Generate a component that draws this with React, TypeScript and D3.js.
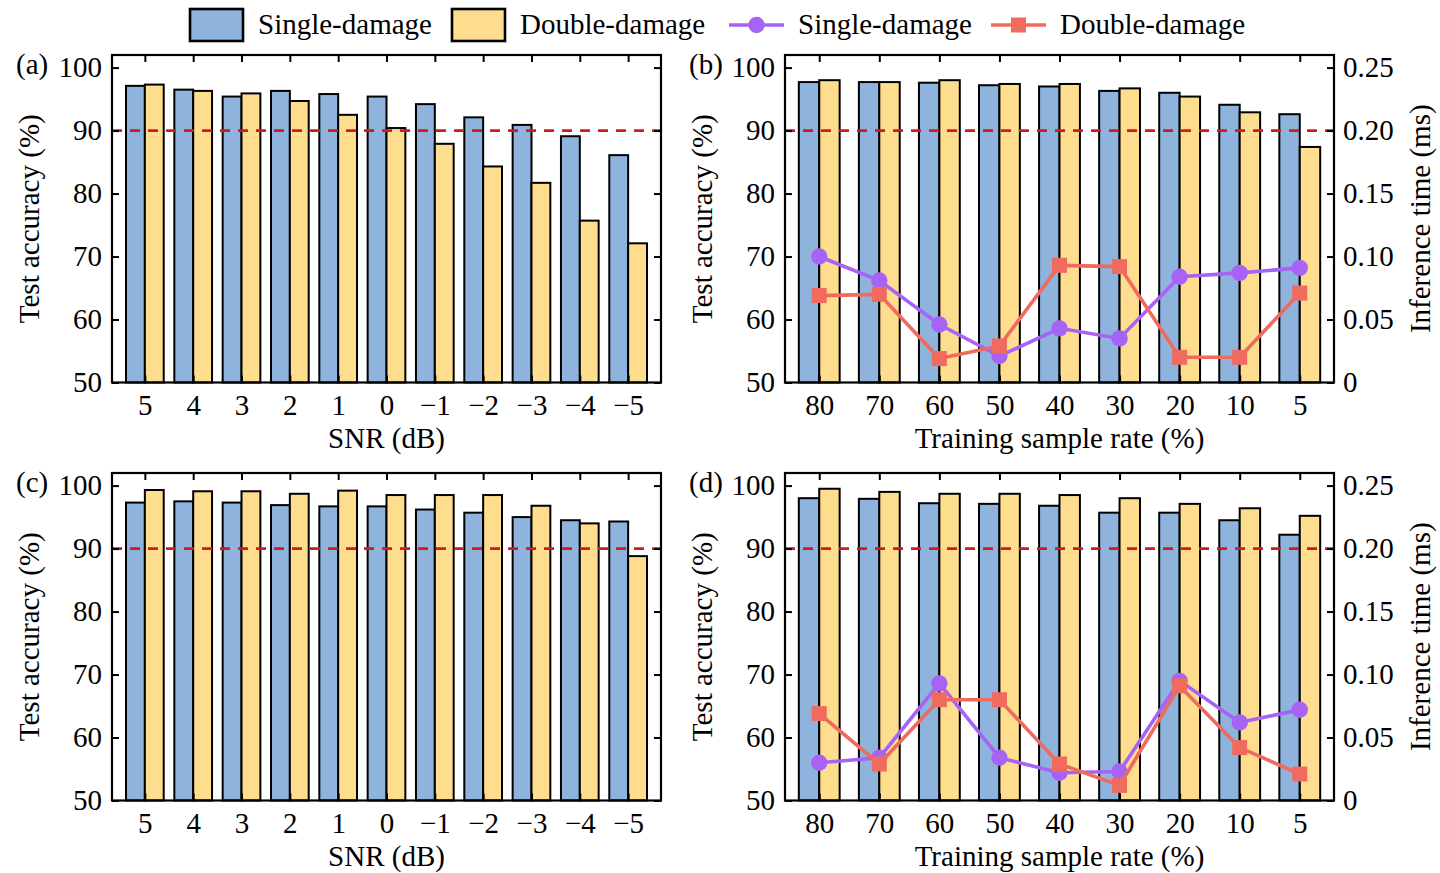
import * as React from "react";
import * as d3 from "d3";

// categories
const snrLabels = ["5", "4", "3", "2", "1", "0", "\u22121", "\u22122", "\u22123", "\u22124", "\u22125"];
const rateLabels = ["80", "70", "60", "50", "40", "30", "20", "10", "5"];

// (a) accuracy vs SNR
const accSnrSingleA = [97.1, 96.5, 95.4, 96.3, 95.8, 95.4, 94.2, 92.1, 90.9, 89.1, 86.1];
const accSnrDoubleA = [97.3, 96.3, 95.9, 94.7, 92.5, 90.4, 87.9, 84.3, 81.7, 75.7, 72.1];

// (b) accuracy + inference time vs training rate
const accRateSingleB = [97.7, 97.7, 97.6, 97.2, 97.0, 96.3, 96.0, 94.1, 92.6];
const accRateDoubleB = [98.0, 97.7, 98.0, 97.4, 97.4, 96.7, 95.4, 92.9, 87.4];
const timeSingleB = [0.1, 0.081, 0.046, 0.021, 0.043, 0.035, 0.084, 0.087, 0.091];
const timeDoubleB = [0.069, 0.07, 0.019, 0.029, 0.093, 0.092, 0.02, 0.02, 0.071];

// (c)
const accSnrSingleC = [97.3, 97.5, 97.3, 96.9, 96.7, 96.7, 96.2, 95.7, 95.0, 94.5, 94.3];
const accSnrDoubleC = [99.3, 99.1, 99.1, 98.7, 99.2, 98.5, 98.5, 98.5, 96.8, 94.0, 88.8];

// (d)
const accRateSingleD = [98.0, 97.9, 97.2, 97.1, 96.8, 95.7, 95.7, 94.5, 92.2];
const accRateDoubleD = [99.5, 99.0, 98.7, 98.7, 98.5, 98.0, 97.1, 96.4, 95.2];
const timeSingleD = [0.03, 0.034, 0.093, 0.034, 0.022, 0.023, 0.095, 0.062, 0.072];
const timeDoubleD = [0.069, 0.029, 0.08, 0.08, 0.029, 0.012, 0.091, 0.042, 0.021];

const accTicks = [50, 60, 70, 80, 90, 100];
const timeTicks = [0, 0.05, 0.1, 0.15, 0.2, 0.25];

const FONT = '"Liberation Serif", "Times New Roman", serif';
const FS = 29;
const BLUE = "#8eb4dd";
const YELLOW = "#ffdd8e";
const PURPLE = "#a663f5";
const RED = "#f06a5e";
const DASH = "#d2191e";

type PanelOpts = {
  left: number;
  top: number;
  label: string;
  cats: string[];
  single: number[];
  double: number[];
  timeSingle?: number[];
  timeDouble?: number[];
  barFrac: number;
  pad: number;
  xTitle: string;
};

function drawPanel(svg: d3.Selection<SVGSVGElement, unknown, null, undefined>, o: PanelOpts) {
  const width = 549;
  const height = 327.5;
  const n = o.cats.length;
  const g = svg.append("g").attr("transform", `translate(${o.left},${o.top})`);

  const x = d3.scaleLinear().domain([-o.pad, n - 1 + o.pad]).range([0, width]);
  const y = d3.scaleLinear().domain([50, 102]).range([height, 0]);
  const yR = d3.scaleLinear().domain([0, 0.26]).range([height, 0]);
  const bw = x(o.barFrac) - x(0);

  // bars
  g.selectAll(".bs")
    .data(o.single)
    .enter()
    .append("rect")
    .attr("x", (_, i) => x(i) - bw)
    .attr("y", (d) => y(d))
    .attr("width", bw)
    .attr("height", (d) => y(50) - y(d))
    .style("fill", BLUE)
    .style("stroke", "#000")
    .style("stroke-width", 2);
  g.selectAll(".bd")
    .data(o.double)
    .enter()
    .append("rect")
    .attr("x", (_, i) => x(i))
    .attr("y", (d) => y(d))
    .attr("width", bw)
    .attr("height", (d) => y(50) - y(d))
    .style("fill", YELLOW)
    .style("stroke", "#000")
    .style("stroke-width", 2);

  // 90% reference
  g.append("line")
    .attr("x1", 0)
    .attr("x2", width)
    .attr("y1", y(90))
    .attr("y2", y(90))
    .style("stroke", DASH)
    .style("stroke-width", 2.8)
    .style("stroke-dasharray", "10,8");

  // inference time lines
  if (o.timeSingle && o.timeDouble) {
    const line = d3
      .line<number>()
      .x((_, i) => x(i))
      .y((d) => yR(d));
    g.append("path")
      .attr("d", line(o.timeSingle))
      .style("fill", "none")
      .style("stroke", PURPLE)
      .style("stroke-width", 3.6);
    g.selectAll(".ms")
      .data(o.timeSingle)
      .enter()
      .append("circle")
      .attr("cx", (_, i) => x(i))
      .attr("cy", (d) => yR(d))
      .attr("r", 8.2)
      .style("fill", PURPLE);
    g.append("path")
      .attr("d", line(o.timeDouble))
      .style("fill", "none")
      .style("stroke", RED)
      .style("stroke-width", 3.6);
    g.selectAll(".md")
      .data(o.timeDouble)
      .enter()
      .append("rect")
      .attr("x", (_, i) => x(i) - 7.5)
      .attr("y", (d) => yR(d) - 7.5)
      .attr("width", 15)
      .attr("height", 15)
      .style("fill", RED);
  }

  // axes (inward ticks on all sides)
  const styleAxis = (sel: d3.Selection<SVGGElement, unknown, null, undefined>) => {
    sel.select(".domain").remove();
    sel.selectAll("line").style("stroke", "#000").style("stroke-width", 2);
    sel.selectAll("text").style("font-family", FONT).style("font-size", `${FS}px`).style("fill", "#000");
  };

  g.append("g")
    .call(d3.axisLeft(y).tickValues(accTicks).tickSize(-7).tickPadding(10).tickFormat(d3.format("d")))
    .call(styleAxis);

  const right = o.timeSingle
    ? d3.axisRight(yR).tickValues(timeTicks).tickFormat((d) => (d === 0 ? "0" : d3.format(".2f")(d as number)))
    : d3.axisRight(y).tickValues(accTicks).tickFormat(() => "");
  g.append("g")
    .attr("transform", `translate(${width},0)`)
    .call(right.tickSize(-7).tickPadding(9))
    .call(styleAxis);

  g.append("g")
    .attr("transform", `translate(0,${height})`)
    .call(
      d3
        .axisBottom(x)
        .tickValues(d3.range(n))
        .tickFormat((i) => o.cats[i as number])
        .tickSize(-7)
        .tickPadding(12)
    )
    .call(styleAxis);

  g.append("g")
    .call(d3.axisTop(x).tickValues(d3.range(n)).tickFormat(() => "").tickSize(-7))
    .call(styleAxis);

  // frame
  g.append("rect")
    .attr("width", width)
    .attr("height", height)
    .style("fill", "none")
    .style("stroke", "#000")
    .style("stroke-width", 2.2);

  const txt = (sel: d3.Selection<SVGTextElement, unknown, null, undefined>) =>
    sel.style("font-family", FONT).style("font-size", `${FS}px`).style("fill", "#000");

  g.append("text").attr("x", -96).attr("y", 19).text(o.label).call(txt);

  g.append("text")
    .attr("transform", `translate(-73,${height / 2}) rotate(-90)`)
    .attr("text-anchor", "middle")
    .text("Test accuracy (%)")
    .call(txt);

  g.append("text")
    .attr("x", width / 2)
    .attr("y", height + 65)
    .attr("text-anchor", "middle")
    .text(o.xTitle)
    .call(txt);

  if (o.timeSingle) {
    g.append("text")
      .attr("transform", `translate(${width + 96},${height / 2}) rotate(-90)`)
      .attr("text-anchor", "middle")
      .text("Inference time (ms)")
      .call(txt);
  }
}

function drawLegend(svg: d3.Selection<SVGSVGElement, unknown, null, undefined>) {
  const g = svg.append("g");
  const cy = 25;
  const patches = [
    { x: 190, color: BLUE, label: "Single-damage", tx: 258 },
    { x: 452, color: YELLOW, label: "Double-damage", tx: 520 },
  ];
  patches.forEach((p) => {
    g.append("rect")
      .attr("x", p.x)
      .attr("y", 9)
      .attr("width", 53)
      .attr("height", 32)
      .style("fill", p.color)
      .style("stroke", "#000")
      .style("stroke-width", 2.6);
    g.append("text")
      .attr("x", p.tx)
      .attr("y", 34)
      .text(p.label)
      .style("font-family", FONT)
      .style("font-size", `${FS}px`);
  });

  const lines = [
    { x: 729, color: PURPLE, label: "Single-damage", tx: 798, mark: "circle" },
    { x: 991, color: RED, label: "Double-damage", tx: 1060, mark: "square" },
  ];
  lines.forEach((l) => {
    g.append("line")
      .attr("x1", l.x)
      .attr("x2", l.x + 55)
      .attr("y1", cy)
      .attr("y2", cy)
      .style("stroke", l.color)
      .style("stroke-width", 3.6);
    if (l.mark === "circle") {
      g.append("circle").attr("cx", l.x + 27.5).attr("cy", cy).attr("r", 8.2).style("fill", l.color);
    } else {
      g.append("rect")
        .attr("x", l.x + 20)
        .attr("y", cy - 7.5)
        .attr("width", 15)
        .attr("height", 15)
        .style("fill", l.color);
    }
    g.append("text")
      .attr("x", l.tx)
      .attr("y", 34)
      .text(l.label)
      .style("font-family", FONT)
      .style("font-size", `${FS}px`);
  });
}

function drawChart(svgRef: React.RefObject<SVGSVGElement | null>) {
  const svg = d3.select(svgRef.current as SVGSVGElement);
  svg.selectAll("*").remove();
  svg.append("rect").attr("width", 1440).attr("height", 873).style("fill", "#fff");

  drawLegend(svg);
  drawPanel(svg, {
    left: 112, top: 55, label: "(a)", cats: snrLabels,
    single: accSnrSingleA, double: accSnrDoubleA,
    barFrac: 0.39, pad: 0.68, xTitle: "SNR (dB)",
  });
  drawPanel(svg, {
    left: 785, top: 55, label: "(b)", cats: rateLabels,
    single: accRateSingleB, double: accRateDoubleB,
    timeSingle: timeSingleB, timeDouble: timeDoubleB,
    barFrac: 0.34, pad: 0.57, xTitle: "Training sample rate (%)",
  });
  drawPanel(svg, {
    left: 112, top: 473, label: "(c)", cats: snrLabels,
    single: accSnrSingleC, double: accSnrDoubleC,
    barFrac: 0.39, pad: 0.68, xTitle: "SNR (dB)",
  });
  drawPanel(svg, {
    left: 785, top: 473, label: "(d)", cats: rateLabels,
    single: accRateSingleD, double: accRateDoubleD,
    timeSingle: timeSingleD, timeDouble: timeDoubleD,
    barFrac: 0.34, pad: 0.57, xTitle: "Training sample rate (%)",
  });
}

const App: React.FunctionComponent = () => {
  const svg = React.useRef<SVGSVGElement>(null);
  React.useEffect(() => {
    drawChart(svg);
  }, [svg]);

  return (
    <svg
      ref={svg}
      width={1440}
      height={873}
      style={{ position: "absolute", left: 0, top: 0, display: "block" }}
    />
  );
};

export default App;
